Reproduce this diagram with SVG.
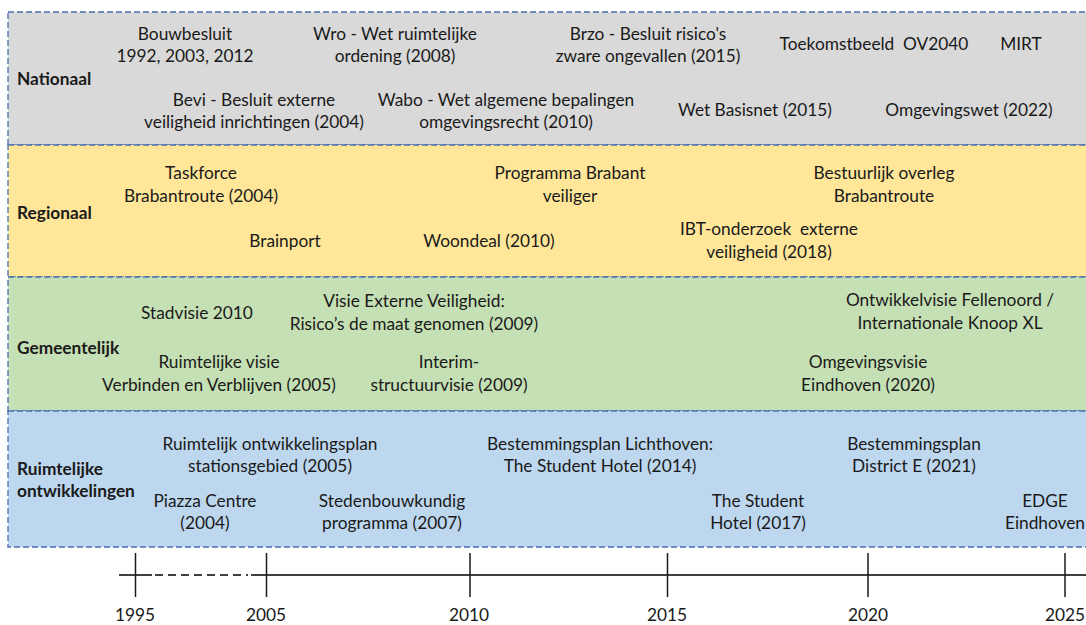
<svg xmlns="http://www.w3.org/2000/svg" width="1086" height="625" viewBox="0 0 1086 625">
<style>
.band{stroke:#4a6fae;stroke-width:1.3;stroke-dasharray:6 3}
text{font-family:Lato,"Noto Sans","Liberation Sans",sans-serif;font-size:17.3px;fill:#1a1a1a}
.c{text-anchor:middle}
.h{font-weight:bold}
.yr{text-anchor:middle}
.axis{stroke:#404040;stroke-width:2;fill:none}
.tick{stroke:#1a1a1a;stroke-width:1.5}
</style>
<rect width="1086" height="625" fill="#ffffff"/>
<g id="band-nationaal">
<rect class="band" x="8" y="12" width="1090" height="133" fill="#d9d9d9"/>
<text class="h" x="17" y="85">Nationaal</text>
</g>
<g id="band-regionaal">
<rect class="band" x="8" y="145" width="1090" height="132" fill="#ffe699"/>
<text class="h" x="17" y="219">Regionaal</text>
</g>
<g id="band-gemeentelijk">
<rect class="band" x="8" y="277" width="1090" height="134" fill="#c5e0b4"/>
<text class="h" x="17" y="354">Gemeentelijk</text>
</g>
<g id="band-ruimtelijk">
<rect class="band" x="8" y="411" width="1090" height="136" fill="#bdd7ee"/>
<text class="h" x="17" y="475">Ruimtelijke</text>
<text class="h" x="17" y="497">ontwikkelingen</text>
</g>

<g id="n-bouwbesluit"><text class="c" x="185" y="40">Bouwbesluit</text><text class="c" x="185" y="62">1992, 2003, 2012</text></g>
<g id="n-wro"><text class="c" x="395" y="40">Wro - Wet ruimtelijke</text><text class="c" x="395" y="62">ordening (2008)</text></g>
<g id="n-brzo"><text class="c" x="648" y="40">Brzo - Besluit risico's</text><text class="c" x="648" y="62">zware ongevallen (2015)</text></g>
<g id="n-ov2040"><text class="c" x="874" y="50" xml:space="preserve">Toekomstbeeld  OV2040</text></g>
<g id="n-mirt"><text class="c" x="1021" y="50">MIRT</text></g>
<g id="n-bevi"><text class="c" x="254" y="106">Bevi - Besluit externe</text><text class="c" x="254" y="128">veiligheid inrichtingen (2004)</text></g>
<g id="n-wabo"><text class="c" x="506" y="106">Wabo - Wet algemene bepalingen</text><text class="c" x="506" y="128">omgevingsrecht (2010)</text></g>
<g id="n-basisnet"><text class="c" x="755" y="116">Wet Basisnet (2015)</text></g>
<g id="n-omgevingswet"><text class="c" x="969" y="116">Omgevingswet (2022)</text></g>

<g id="r-taskforce"><text class="c" x="201" y="179">Taskforce</text><text class="c" x="201" y="201.5">Brabantroute (2004)</text></g>
<g id="r-programma"><text class="c" x="570" y="179">Programma Brabant</text><text class="c" x="570" y="201.5">veiliger</text></g>
<g id="r-overleg"><text class="c" x="884" y="179">Bestuurlijk overleg</text><text class="c" x="884" y="201.5">Brabantroute</text></g>
<g id="r-brainport"><text class="c" x="285" y="247">Brainport</text></g>
<g id="r-woondeal"><text class="c" x="489" y="247">Woondeal (2010)</text></g>
<g id="r-ibt"><text class="c" x="769" y="235" xml:space="preserve">IBT-onderzoek  externe</text><text class="c" x="769" y="258">veiligheid (2018)</text></g>

<g id="g-stadvisie"><text class="c" x="197" y="319">Stadvisie 2010</text></g>
<g id="g-visie-ev"><text class="c" x="414" y="307">Visie Externe Veiligheid:</text><text class="c" x="414" y="330">Risico’s de maat genomen (2009)</text></g>
<g id="g-fellenoord"><text class="c" x="950" y="306">Ontwikkelvisie Fellenoord /</text><text class="c" x="950" y="329">Internationale Knoop XL</text></g>
<g id="g-ruimtelijke-visie"><text class="c" x="219" y="368">Ruimtelijke visie</text><text class="c" x="219" y="391">Verbinden en Verblijven (2005)</text></g>
<g id="g-interim"><text class="c" x="449" y="368">Interim-</text><text class="c" x="449" y="391">structuurvisie (2009)</text></g>
<g id="g-omgevingsvisie"><text class="c" x="868" y="368">Omgevingsvisie</text><text class="c" x="868" y="391">Eindhoven (2020)</text></g>

<g id="o-rop"><text class="c" x="270" y="450">Ruimtelijk ontwikkelingsplan</text><text class="c" x="270" y="472">stationsgebied (2005)</text></g>
<g id="o-lichthoven"><text class="c" x="600" y="450">Bestemmingsplan Lichthoven:</text><text class="c" x="600" y="472">The Student Hotel (2014)</text></g>
<g id="o-districte"><text class="c" x="914" y="450">Bestemmingsplan</text><text class="c" x="914" y="472">District E (2021)</text></g>
<g id="o-piazza"><text class="c" x="205" y="507">Piazza Centre</text><text class="c" x="205" y="529">(2004)</text></g>
<g id="o-stedenbouw"><text class="c" x="392" y="507">Stedenbouwkundig</text><text class="c" x="392" y="529">programma (2007)</text></g>
<g id="o-studenthotel"><text class="c" x="758" y="507">The Student</text><text class="c" x="758" y="529">Hotel (2017)</text></g>
<g id="o-edge"><text class="c" x="1045" y="507">EDGE</text><text class="c" x="1045" y="529">Eindhoven</text></g>

<g id="connectors">
<g id="timeline">
<line class="axis" x1="119" y1="575" x2="152" y2="575"/>
<line class="axis" x1="155" y1="575" x2="248" y2="575" stroke-dasharray="8 5"/>
<line class="axis" x1="251" y1="575" x2="1086" y2="575"/>
<line class="tick" x1="135.5" y1="553" x2="135.5" y2="597"/>
<line class="tick" x1="266.5" y1="553" x2="266.5" y2="597"/>
<line class="tick" x1="470" y1="553" x2="470" y2="597"/>
<line class="tick" x1="667.5" y1="553" x2="667.5" y2="597"/>
<line class="tick" x1="868" y1="553" x2="868" y2="597"/>
<line class="tick" x1="1065" y1="553" x2="1065" y2="597"/>
<text class="yr" x="135" y="621">1995</text>
<text class="yr" x="266" y="621">2005</text>
<text class="yr" x="469" y="621">2010</text>
<text class="yr" x="667" y="621">2015</text>
<text class="yr" x="868" y="621">2020</text>
<text class="yr" x="1065" y="621">2025</text>
</g>
</g>
</svg>
